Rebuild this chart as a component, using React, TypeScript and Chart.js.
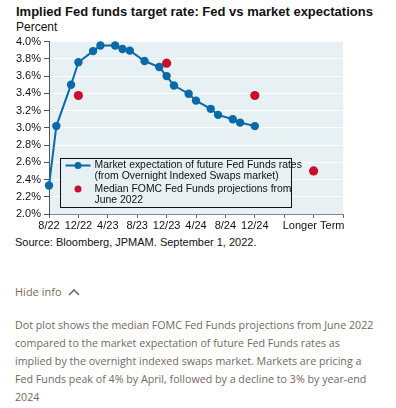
import React, { useEffect, useRef } from "react";
import { Chart, registerables } from "chart.js";

Chart.register(...registerables);

// months since 8/22
const marketMonths = [0, 1, 3, 4, 6, 7, 9, 10, 11, 13, 15, 16, 17, 19, 20, 22, 23, 25, 26, 28];
const marketValues = [2.33, 3.02, 3.5, 3.76, 3.89, 3.955, 3.955, 3.915, 3.895, 3.775, 3.705, 3.6, 3.49, 3.395, 3.315, 3.22, 3.15, 3.1, 3.06, 3.02];
const fomcMonths = [4, 16, 28, 36];
const fomcValues = [3.375, 3.75, 3.375, 2.5];
const xTickMonths = [0, 4, 8, 12, 16, 20, 24, 28, 32, 36, 40];
const xTickLabels = ["8/22", "12/22", "4/23", "8/23", "12/23", "4/24", "8/24", "12/24", "", "Longer Term", ""];
const marketLabel = ["Market expectation of future Fed Funds rates", "(from Overnight Indexed Swaps market)"];
const fomcLabel = ["Median FOMC Fed Funds projections from", "June 2022"];

const BLUE = "#0a6aa8";
const RED = "#c8102e";
const PLOT_BG = "#e7f0f3";
const FONT = "'Liberation Sans', Arial, sans-serif";

const bgPlugin = {
  id: "plotBg",
  beforeDraw(chart: any) {
    const { ctx, chartArea } = chart;
    ctx.save();
    ctx.fillStyle = PLOT_BG;
    ctx.fillRect(chartArea.left, chartArea.top, chartArea.right - chartArea.left, chartArea.bottom - chartArea.top);
    ctx.restore();
  },
};

const legendPlugin = {
  id: "boxLegend",
  afterDatasetsDraw(chart: any) {
    const { ctx, chartArea } = chart;
    const x0 = Math.round(chartArea.left + 11) + 0.5;
    const y0 = Math.round(chartArea.top + 116) + 0.5;
    const w = 231;
    const h = 49;
    ctx.save();
    ctx.fillStyle = PLOT_BG;
    ctx.fillRect(x0, y0, w, h);
    ctx.strokeStyle = "#111";
    ctx.lineWidth = 1;
    ctx.strokeRect(x0, y0, w, h);
    ctx.font = `10.4px ${FONT}`;
    ctx.fillStyle = "#111";
    ctx.textBaseline = "middle";
    const tx = x0 + 34;
    const lines = [marketLabel[0], marketLabel[1], fomcLabel[0], fomcLabel[1]];
    const ys = [y0 + 7, y0 + 18, y0 + 30.5, y0 + 42];
    lines.forEach((t, i) => ctx.fillText(t, tx, ys[i]));
    // market sample
    ctx.strokeStyle = BLUE;
    ctx.lineWidth = 2;
    ctx.beginPath();
    ctx.moveTo(x0 + 5, ys[0]);
    ctx.lineTo(x0 + 30, ys[0]);
    ctx.stroke();
    ctx.fillStyle = BLUE;
    ctx.beginPath();
    ctx.arc(x0 + 17.5, ys[0], 3.5, 0, Math.PI * 2);
    ctx.fill();
    ctx.fillStyle = RED;
    ctx.beginPath();
    ctx.arc(x0 + 17.5, ys[2], 3.5, 0, Math.PI * 2);
    ctx.fill();
    ctx.restore();
  },
};

function ChartBox() {
  const ref = useRef<HTMLCanvasElement>(null);
  useEffect(() => {
    if (!ref.current) return;
    const chart = new Chart(ref.current, {
      type: "scatter",
      data: {
        datasets: [
          {
            label: marketLabel.join(" "),
            data: marketMonths.map((m, i) => ({ x: m, y: marketValues[i] })),
            showLine: true,
            clip: false,
            borderColor: BLUE,
            backgroundColor: BLUE,
            borderWidth: 2,
            pointRadius: 4.2,
            pointHoverRadius: 4.2,
            pointBorderWidth: 0,
          },
          {
            label: fomcLabel.join(" "),
            data: fomcMonths.map((m, i) => ({ x: m, y: fomcValues[i] })),
            showLine: false,
            clip: false,
            borderColor: RED,
            backgroundColor: RED,
            pointRadius: 4.6,
            pointHoverRadius: 4.6,
            pointBorderWidth: 0,
          },
        ],
      },
      options: {
        animation: false,
        responsive: false,
        layout: { padding: { top: 2.5, right: 53, left: 0, bottom: 0 } },
        plugins: { legend: { display: false }, tooltip: { enabled: false } },
        scales: {
          x: {
            type: "linear",
            min: 0,
            max: 40,
            afterBuildTicks(scale: any) {
              scale.ticks = xTickMonths.map((v) => ({ value: v }));
            },
            afterFit(scale: any) {
              scale.height = 22;
            },
            ticks: {
              autoSkip: false,
              maxRotation: 0,
              padding: 1,
              color: "#111",
              font: { family: FONT, size: 11 },
              callback: (v: any) => {
                const i = xTickMonths.indexOf(Number(v));
                return i >= 0 ? xTickLabels[i] : "";
              },
            },
            grid: { drawOnChartArea: false, drawTicks: true, tickLength: 4, tickColor: "#666", color: "#666" },
            border: { color: "#888", width: 1 },
          },
          y: {
            min: 2,
            max: 4,
            afterFit(scale: any) {
              scale.width = 49;
            },
            ticks: {
              stepSize: 0.2,
              padding: 3,
              color: "#111",
              font: { family: FONT, size: 11 },
              callback: (v: any) => Number(v).toFixed(1) + "%",
            },
            grid: { color: "#ffffff", lineWidth: 1, tickColor: "#555", tickLength: 5 },
            border: { color: "#555", width: 1 },
          },
        },
      },
      plugins: [bgPlugin, legendPlugin],
    });
    return () => chart.destroy();
  }, []);
  return <canvas ref={ref} width={396} height={204} style={{ position: "absolute", left: 0, top: 32, width: 396, height: 204 }} />;
}

export default function App() {
  return (
    <div style={{ position: "relative", width: 396, height: 408, background: "#fff", overflow: "hidden" }}>
      <style>{`body{margin:0}`}</style>
      <div style={{ position: "absolute", left: 16, top: 4, font: `bold 13px ${FONT}`, color: "#111", whiteSpace: "nowrap" }}>
        Implied Fed funds target rate: Fed vs market expectations
      </div>
      <div style={{ position: "absolute", left: 16, top: 20, font: `12px ${FONT}`, color: "#111" }}>Percent</div>
      <ChartBox />
      <div style={{ position: "absolute", left: 15, top: 236, font: `11px ${FONT}`, color: "#111", whiteSpace: "nowrap" }}>
        Source: Bloomberg, JPMAM. September 1, 2022.
      </div>
      <div style={{ position: "absolute", left: 15, top: 284, font: `11px 'Open Sans', sans-serif`, color: "#7b6a5c", display: "flex", alignItems: "center" }}>
        Hide info
        <svg width="12" height="8" style={{ marginLeft: 6 }}>
          <polyline points="1,7 6,2 11,7" fill="none" stroke="#7b6a5c" strokeWidth="1.6" />
        </svg>
      </div>
      <div style={{ position: "absolute", left: 15, top: 316, width: 363, font: `10.7px 'Open Sans', sans-serif`, lineHeight: "18px", color: "#75685f" }}>
        Dot plot shows the median FOMC Fed Funds projections from June 2022 compared to the market expectation of future Fed Funds rates as implied by the overnight indexed swaps market. Markets are pricing a Fed Funds peak of 4% by April, followed by a decline to 3% by year-end 2024
      </div>
    </div>
  );
}
